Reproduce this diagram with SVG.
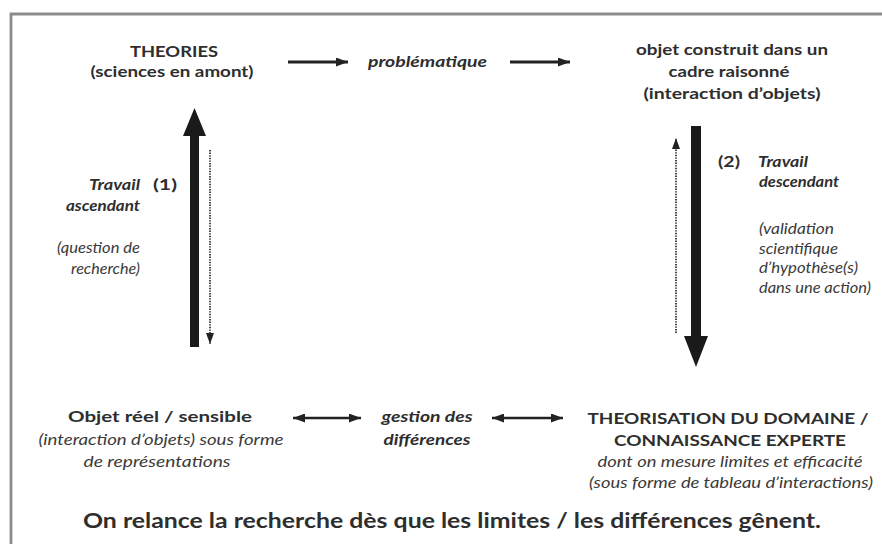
<svg xmlns="http://www.w3.org/2000/svg" width="882" height="544" viewBox="0 0 882 544">
<defs>
<style>
text{font-family:Lato,"Open Sans","Liberation Sans",sans-serif;fill:#2e2e2e;}
.b{font-weight:bold;font-size:16px;}
.bi{font-weight:bold;font-style:italic;font-size:15px;}
.i{font-style:italic;font-size:15px;fill:#3a3a3a;}
.m{text-anchor:middle;}
.e{text-anchor:end;}
.big{font-weight:bold;font-size:20px;}
.thin{stroke:#222;stroke-width:3;fill:none;}
.dbl{stroke:#222;stroke-width:2.6;fill:none;}
.dot{stroke:#333;stroke-width:1.8;stroke-dasharray:1.4 1.2;fill:none;}
.frame{stroke:#8c8c8c;stroke-width:2.8;fill:none;}
</style>
<marker id="ah" viewBox="0 0 12 9" refX="12" refY="4.5" markerWidth="12" markerHeight="9" markerUnits="userSpaceOnUse" orient="auto-start-reverse">
<path d="M0,0 L12,4.5 L0,9 z" fill="#222"/>
</marker>
<marker id="sh" viewBox="0 0 11 8" refX="11" refY="4" markerWidth="11" markerHeight="8" markerUnits="userSpaceOnUse" orient="auto">
<path d="M0,0 L11,4 L0,8 z" fill="#222"/>
</marker>
</defs>
<rect width="882" height="544" fill="#fff"/>
<path class="frame" d="M11,544 V14 H882"/>

<g id="connectors">
<line class="thin" x1="288" y1="62" x2="348" y2="62" marker-end="url(#ah)"/>
<line class="thin" x1="510" y1="62" x2="570" y2="62" marker-end="url(#ah)"/>
<line class="dbl" x1="293" y1="418" x2="361" y2="418" marker-start="url(#ah)" marker-end="url(#ah)"/>
<line class="dbl" x1="492" y1="418" x2="563" y2="418" marker-start="url(#ah)" marker-end="url(#ah)"/>
<path d="M190,347 V136 H183 L194.5,108 L206,136 H199 V347 Z" fill="#1a1a1a"/>
<path d="M691,126 V336 H684 L696,367 L708,336 H701 V126 Z" fill="#1a1a1a"/>
<line class="dot" x1="210" y1="150" x2="210" y2="344" marker-end="url(#sh)"/>
<line class="dot" x1="676" y1="333" x2="676" y2="138" marker-end="url(#sh)"/>
</g>

<g id="theories">
<text class="b m" x="174" y="57" textLength="88" lengthAdjust="spacingAndGlyphs">THEORIES</text>
<text class="b m" x="172" y="77" textLength="163" lengthAdjust="spacingAndGlyphs">(sciences en amont)</text>
</g>
<g id="problematique">
<text class="bi" x="368" y="67" textLength="119" lengthAdjust="spacingAndGlyphs">problématique</text>
</g>
<g id="objet-construit">
<text class="b m" x="732" y="55" textLength="192" lengthAdjust="spacingAndGlyphs">objet construit dans un</text>
<text class="b m" x="729" y="77" textLength="121" lengthAdjust="spacingAndGlyphs">cadre raisonné</text>
<text class="b m" x="732" y="99" textLength="177" lengthAdjust="spacingAndGlyphs">(interaction d’objets)</text>
</g>
<g id="travail-ascendant">
<text class="bi e" x="140" y="190" textLength="51" lengthAdjust="spacingAndGlyphs">Travail</text>
<text class="b" x="153" y="190" textLength="24" lengthAdjust="spacingAndGlyphs">(1)</text>
<text class="bi e" x="140" y="211" textLength="74" lengthAdjust="spacingAndGlyphs">ascendant</text>
<text class="i e" x="140" y="253" textLength="83" lengthAdjust="spacingAndGlyphs">(question de</text>
<text class="i e" x="140" y="274" textLength="69" lengthAdjust="spacingAndGlyphs">recherche)</text>
</g>
<g id="travail-descendant">
<text class="b" x="718" y="167" textLength="22" lengthAdjust="spacingAndGlyphs">(2)</text>
<text class="bi" x="758" y="167" textLength="50" lengthAdjust="spacingAndGlyphs">Travail</text>
<text class="bi" x="759" y="187" textLength="80" lengthAdjust="spacingAndGlyphs">descendant</text>
<text class="i" x="759" y="234" textLength="75" lengthAdjust="spacingAndGlyphs">(validation</text>
<text class="i" x="759" y="254" textLength="79" lengthAdjust="spacingAndGlyphs">scientifique</text>
<text class="i" x="759" y="273" textLength="99" lengthAdjust="spacingAndGlyphs">d’hypothèse(s)</text>
<text class="i" x="759" y="293" textLength="112" lengthAdjust="spacingAndGlyphs">dans une action)</text>
</g>
<g id="objet-reel">
<text class="b m" x="160" y="422" textLength="184" lengthAdjust="spacingAndGlyphs">Objet réel / sensible</text>
<text class="i m" x="161" y="445" textLength="245" lengthAdjust="spacingAndGlyphs">(interaction d’objets) sous forme</text>
<text class="i m" x="157" y="467" textLength="147" lengthAdjust="spacingAndGlyphs">de représentations</text>
</g>
<g id="gestion">
<text class="bi m" x="427" y="422" textLength="91" lengthAdjust="spacingAndGlyphs">gestion des</text>
<text class="bi m" x="427" y="445" textLength="87" lengthAdjust="spacingAndGlyphs">différences</text>
</g>
<g id="theorisation">
<text class="b m" x="728" y="424" textLength="281" lengthAdjust="spacingAndGlyphs">THEORISATION DU DOMAINE /</text>
<text class="b m" x="730" y="446" textLength="232" lengthAdjust="spacingAndGlyphs">CONNAISSANCE EXPERTE</text>
<text class="i m" x="730" y="467" textLength="265" lengthAdjust="spacingAndGlyphs">dont on mesure limites et efficacité</text>
<text class="i m" x="731" y="488" textLength="284" lengthAdjust="spacingAndGlyphs">(sous forme de tableau d’interactions)</text>
</g>
<g id="conclusion">
<text class="big m" x="452" y="528" textLength="738" lengthAdjust="spacingAndGlyphs">On relance la recherche dès que les limites / les différences gênent.</text>
</g>
</svg>
